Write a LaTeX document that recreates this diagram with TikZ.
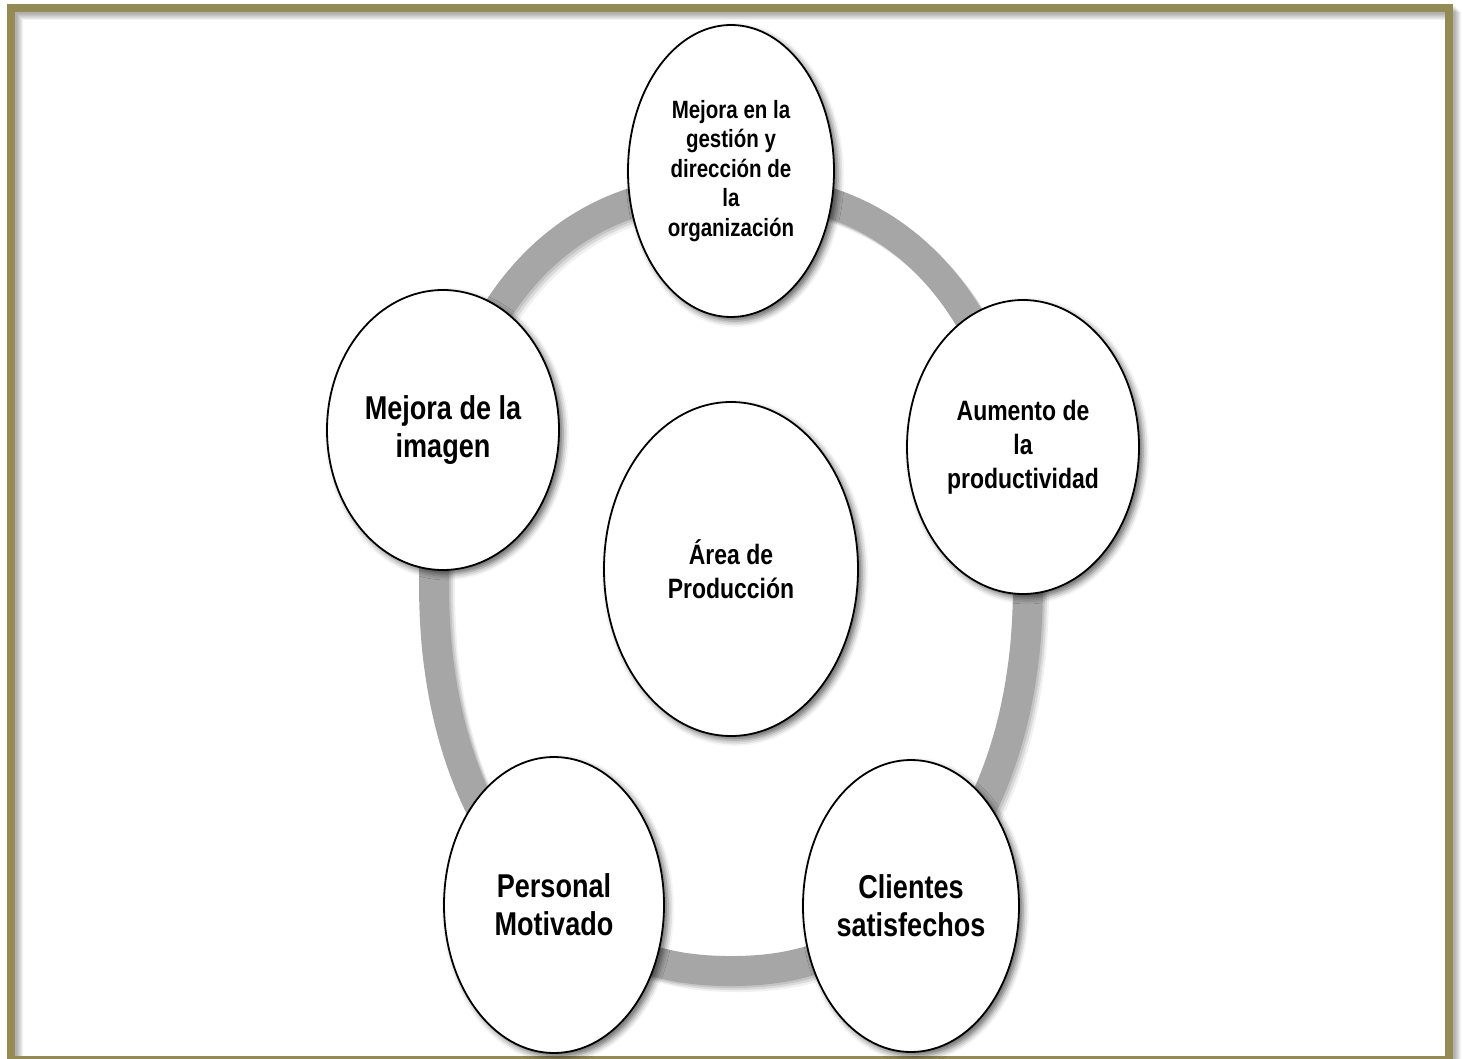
\documentclass[tikz,border=0pt]{standalone}
\usepackage{fontspec}
\setmainfont{Liberation Sans}[FakeStretch=0.82]
\usetikzlibrary{shapes.geometric,shadows.blur}
\definecolor{frameol}{HTML}{948A54}
\definecolor{ringgray}{HTML}{A6A6A6}
\begin{document}
\begin{tikzpicture}[x=1pt,y=-1pt,
  bubble/.style={ellipse, draw=black, line width=1.8pt, fill=white, inner sep=0pt,
    align=center, text=black,
    blur shadow={shadow xshift=4pt, shadow yshift=-4pt, shadow blur radius=6pt, shadow opacity=60}},
  smalltxt/.style={font=\bfseries\fontsize{25}{29.5}\selectfont},
  midtxt/.style={font=\bfseries\fontsize{28}{34}\selectfont},
  bigtxt/.style={font=\bfseries\fontsize{33}{38}\selectfont}]
\useasboundingbox (0,0) rectangle (1462,1059);
\clip (0,0) rectangle (1462,1059);

% frame with shadow
\foreach \d in {2,3,4,5,6,7,8}
  \draw[line width=8pt, draw=black, opacity=0.05] (11+\d,8+\d) rectangle (1449+\d,1060+\d);
\draw[line width=8pt, draw=frameol] (11,8) rectangle (1449,1060);

% ring (rounded oval)
\def\ringpath{plot[domain=0:180, samples=120, variable=\t]
    ({731+297*sign(cos(\t))*pow(abs(cos(\t)),0.87)}, {580-391*pow(abs(sin(\t)),0.87)})
  -- plot[domain=180:360, samples=120, variable=\t]
    ({731+297*sign(cos(\t))*pow(abs(cos(\t)),0.92)}, {580+391*pow(abs(sin(\t)),0.92)}) -- cycle}
\foreach \d/\o in {2/0.10,4/0.09,6/0.06}
  \draw[line width=30pt, draw=black, opacity=\o, shift={(\d,\d)}, line join=round] \ringpath;
\draw[line width=30pt, draw=ringgray, line join=round] \ringpath;

% nodes
\node[bubble, smalltxt, minimum width=206pt, minimum height=292pt] (gestion) at (731,171)
  {Mejora en la\\gestión y\\dirección de\\la\\organización};
\node[bubble, bigtxt, minimum width=232pt, minimum height=280pt] (imagen) at (443,430)
  {Mejora de la\\imagen};
\node[bubble, midtxt, minimum width=232pt, minimum height=294pt] (producto) at (1023,447)
  {Aumento de\\la\\productividad};
\node[bubble, midtxt, minimum width=254pt, minimum height=334pt] (area) at (731,569)
  {Área de\\Producción};
\node[bubble, bigtxt, minimum width=220pt, minimum height=296pt] (personal) at (554,905)
  {Personal\\Motivado};
\node[bubble, bigtxt, minimum width=216pt, minimum height=292pt] (clientes) at (911,906)
  {Clientes\\satisfechos};
\end{tikzpicture}
\end{document}
